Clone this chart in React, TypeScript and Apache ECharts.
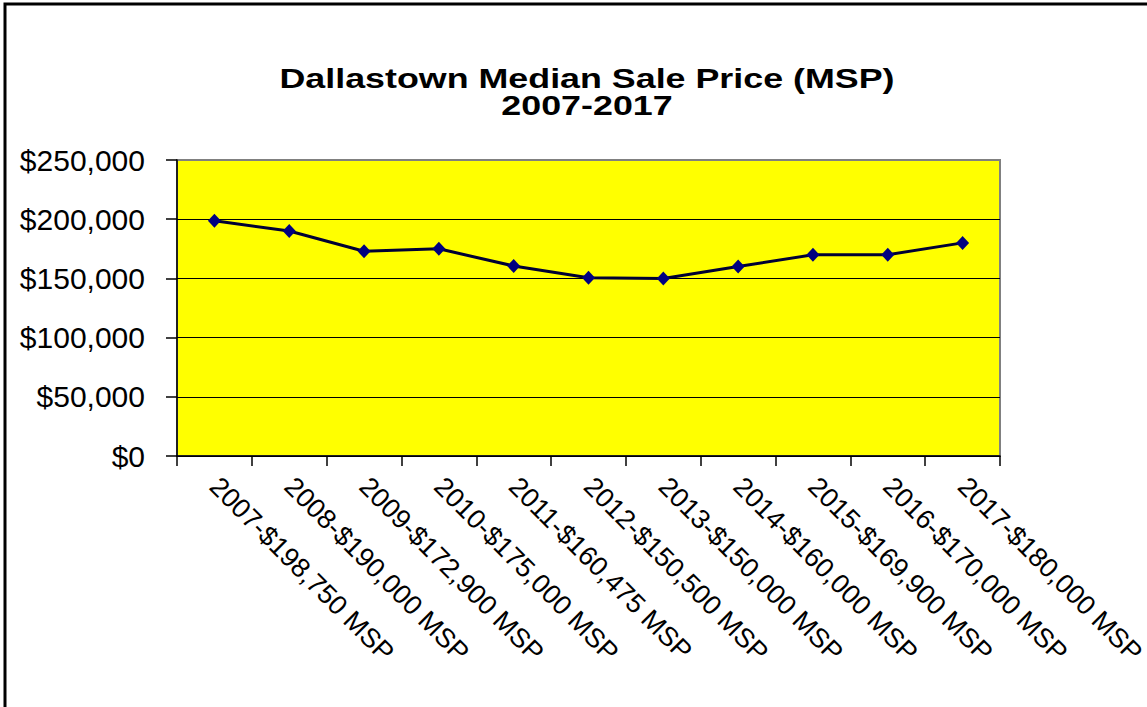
import React, { useEffect, useRef } from "react";
import * as echarts from "echarts";

const years = ["2007", "2008", "2009", "2010", "2011", "2012", "2013", "2014", "2015", "2016", "2017"];
const prices = [198750, 190000, 172900, 175000, 160475, 150500, 150000, 160000, 169900, 170000, 180000];
const categories = years.map((y, i) => `${y}-$${prices[i].toLocaleString("en-US")} MSP`);
const titleLines = ["Dallastown Median Sale Price (MSP)", "2007-2017"];
const yMin = 0;
const yMax = 250000;
const yStep = 50000;

export default function App() {
  const ref = useRef<HTMLDivElement>(null);
  useEffect(() => {
    if (!ref.current) return;
    const chart = echarts.init(ref.current, undefined, { renderer: "svg" });
    const font = "'Liberation Sans', Arial, sans-serif";
    chart.setOption({
      animation: false,
      backgroundColor: "#ffffff",
      graphic: [
        {
          type: "rect",
          shape: { x: 5, y: 4, width: 1160, height: 720 },
          style: { fill: "none", stroke: "#000", lineWidth: 3 },
          silent: true,
        },
        ...titleLines.map((t, i) => ({
          type: "text",
          x: 587,
          y: 78 + i * 27,
          scaleX: 1.28,
          silent: true,
          style: {
            text: t,
            fill: "#000",
            font: `bold 28px ${font}`,
            textAlign: "center",
            textVerticalAlign: "middle",
          },
        })),
      ],
      grid: {
        left: 177,
        top: 160,
        right: 147,
        bottom: 251,
        show: true,
        backgroundColor: "#FFFF00",
        borderColor: "#808080",
        borderWidth: 2,
        containLabel: false,
        outerBoundsMode: "none",
      },
      xAxis: {
        type: "category",
        data: categories,
        boundaryGap: true,
        axisLine: { show: true, lineStyle: { color: "#000", width: 1.5 } },
        axisTick: { show: true, alignWithLabel: false, length: 10, lineStyle: { color: "#000", width: 1.5 } },
        axisLabel: {
          interval: 0,
          rotate: -45,
          margin: 26,
          color: "#000",
          fontFamily: font,
          fontSize: 27,
        },
        splitLine: { show: false },
      },
      yAxis: {
        type: "value",
        min: yMin,
        max: yMax,
        interval: yStep,
        axisLine: { show: true, lineStyle: { color: "#000", width: 1.5 } },
        axisTick: { show: true, length: 11, lineStyle: { color: "#000", width: 1.5 } },
        axisLabel: {
          margin: 32,
          color: "#000",
          fontFamily: font,
          fontSize: 30,
          formatter: (v: number) => "$" + v.toLocaleString("en-US"),
        },
        splitLine: { show: true, showMaxLine: false, lineStyle: { color: "#000", width: 1 } },
      },
      series: [
        {
          type: "line",
          data: prices,
          symbol: "diamond",
          symbolSize: [13, 14],
          itemStyle: { color: "#000080" },
          lineStyle: { color: "#000033", width: 3 },
          z: 3,
        },
      ],
    });
    return () => chart.dispose();
  }, []);
  return <div ref={ref} style={{ position: "fixed", left: 0, top: 0, width: 1147, height: 707 }} />;
}
